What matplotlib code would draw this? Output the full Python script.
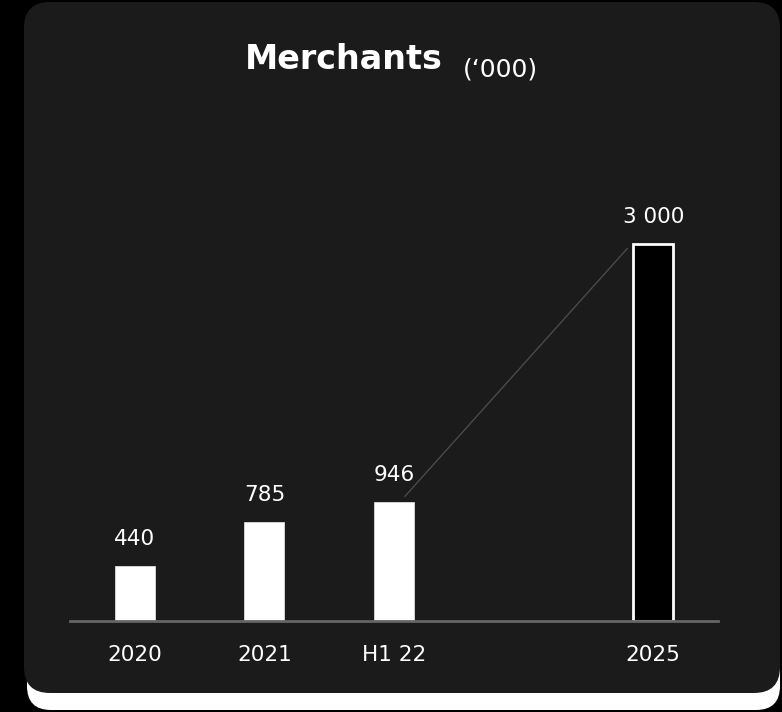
import matplotlib.pyplot as plt
from matplotlib.patches import FancyBboxPatch

# merchants, thousands
periods = ['2020', '2021', 'H1 22', '2025']
merchants = [440, 785, 946, 3000]
slots = [0, 1, 2, 4]
labels = ['440', '785', '946', '3 000']

W, H = 782, 712
fig = plt.figure(figsize=(W / 100, H / 100), dpi=100)
fig.patch.set_facecolor('black')

def px(x0, y0, x1, y1):
    # pixel box (top-left origin) -> figure fraction rect
    return x0 / W, 1 - y1 / H, (x1 - x0) / W, (y1 - y0) / H

# card background: white lip underneath, dark panel on top
bg = fig.add_axes([0, 0, 1, 1])
bg.set_xlim(0, W)
bg.set_ylim(H, 0)
bg.axis('off')
bg.add_patch(FancyBboxPatch((27, 40), 753, 670, boxstyle='round,pad=0,rounding_size=24',
                            fc='white', ec='none'))
bg.add_patch(FancyBboxPatch((24, 2), 756, 691, boxstyle='round,pad=0,rounding_size=26',
                            fc='#1b1b1b', ec='none'))

# title
fig.text(344 / W, 1 - 69 / H, 'Merchants', color='white', fontsize=24, fontweight='bold',
         family='DejaVu Sans', va='baseline', ha='center')
fig.text(463 / W, 1 - 76 / H, "(\u2018000)", color='white', fontsize=18,
         family='DejaVu Sans', va='baseline', ha='left')

# chart area: baseline at y=621px, 0.1255 px per thousand
base = 621
scale = 0.1255
top = 120
ax = fig.add_axes(px(70, top, 718, base))
ax.set_facecolor('none')
ax.set_xlim(-0.5, 4.5)
ax.set_ylim(0, (base - top) / scale)

colors = ['white', 'white', 'white', 'black']
for s, v, c in zip(slots, merchants, colors):
    ax.bar(s, v, width=0.31, color=c, edgecolor='white' if c == 'black' else '#dddddd',
           linewidth=2 if c == 'black' else 0.6, zorder=3)

for s, v, t in zip(slots, merchants, labels):
    ax.annotate(t, (s, v), xytext=(0, 19.5), textcoords='offset points', ha='center',
                va='center', color='white', fontsize=15.5, family='DejaVu Sans')

# growth line from H1 22 to 2025
ax.plot([2.085, 3.8], [994, 2968], color='#4a4a4a', linewidth=1, zorder=2)

for side in ['top', 'right', 'left']:
    ax.spines[side].set_visible(False)
ax.spines['bottom'].set_color('#666666')
ax.spines['bottom'].set_linewidth(2)
ax.spines['bottom'].set_zorder(4)
ax.set_yticks([])
ax.set_xticks(slots)
ax.set_xticklabels(periods, color='white', fontsize=15.5, family='DejaVu Sans')
ax.tick_params(axis='x', length=0, pad=17)

fig.savefig('out.png', dpi=100, facecolor=fig.get_facecolor())
